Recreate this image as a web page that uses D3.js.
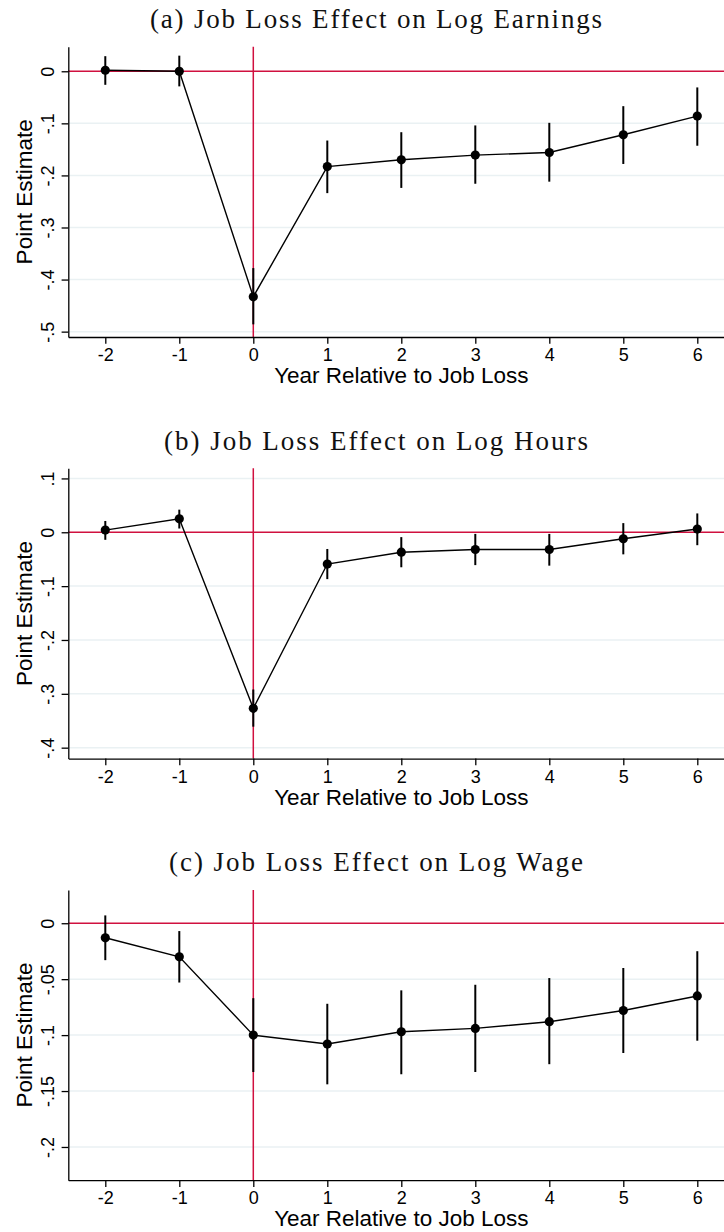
<!DOCTYPE html>
<html>
<head>
<meta charset="utf-8">
<script src="https://cdn.jsdelivr.net/npm/d3@7"></script>
<style>
  body { margin: 0; background: #fff; }
  svg { display: block; }
</style>
</head>
<body>
<div id="chart"></div>
<script>
// years relative to job loss
const years = [-2, -1, 0, 1, 2, 3, 4, 5, 6];

// (a) log earnings
const earnEst = [0.002, 0.000, -0.433, -0.183, -0.170, -0.161, -0.156, -0.122, -0.086];
const earnLo  = [-0.026, -0.029, -0.486, -0.234, -0.224, -0.216, -0.212, -0.178, -0.143];
const earnHi  = [0.029, 0.030, -0.378, -0.133, -0.117, -0.104, -0.099, -0.067, -0.031];
const earnTicks = [0, -0.1, -0.2, -0.3, -0.4, -0.5];

// (b) log hours
const hoursEst = [0.004, 0.025, -0.327, -0.059, -0.037, -0.032, -0.032, -0.012, 0.006];
const hoursLo  = [-0.014, 0.007, -0.361, -0.087, -0.065, -0.061, -0.062, -0.041, -0.024];
const hoursHi  = [0.021, 0.042, -0.292, -0.031, -0.009, -0.003, -0.003, 0.017, 0.035];
const hoursTicks = [0.1, 0, -0.1, -0.2, -0.3, -0.4];

// (c) log wage
const wageEst = [-0.013, -0.030, -0.100, -0.108, -0.097, -0.094, -0.088, -0.078, -0.065];
const wageLo  = [-0.033, -0.053, -0.133, -0.144, -0.135, -0.133, -0.126, -0.116, -0.105];
const wageHi  = [0.007, -0.007, -0.067, -0.072, -0.060, -0.055, -0.049, -0.040, -0.025];
const wageTicks = [0, -0.05, -0.1, -0.15, -0.2];

const panels = [
  { title: "(a) Job Loss Effect on Log Earnings", est: earnEst, lo: earnLo, hi: earnHi, ticks: earnTicks, ydom: [-0.5103, 0.0472], tw: 452 },
  { title: "(b) Job Loss Effect on Log Hours",    est: hoursEst, lo: hoursLo, hi: hoursHi, ticks: hoursTicks, ydom: [-0.4203, 0.1188], tw: 424 },
  { title: "(c) Job Loss Effect on Log Wage",     est: wageEst, lo: wageLo, hi: wageHi, ticks: wageTicks, ydom: [-0.2297, 0.0298], tw: 414 },
];

const W = 724, H = 1232;
const STEP = 421.6;           // vertical offset between panels
const left = 68.3, right = 734.3;
const plotTop = 46.7, plotBot = 337;
const red = "#d0103f";
const gridCol = "#eaf1f3";

// Stata style labels: drop the leading zero, plain hyphen minus
const fmt = v => v === 0 ? "0" : String(v).replace("0.", ".");

const svg = d3.select("#chart").append("svg")
  .attr("width", W).attr("height", H)
  .style("font-family", "'Liberation Sans', Arial, sans-serif");

const x = d3.scaleLinear().domain([-2.5, 6.5]).range([left, right]);

panels.forEach((p, k) => {
  const off = k * STEP;
  const g = svg.append("g").attr("transform", `translate(0,${off})`);
  const y = d3.scaleLinear().domain(p.ydom).range([plotBot, plotTop]);

  //title
  g.append("text")
    .attr("x", 376).attr("y", 28.3)
    .attr("text-anchor", "middle")
    .attr("textLength", p.tw).attr("lengthAdjust", "spacing")
    .style("font-family", "'Liberation Serif', 'Times New Roman', serif")
    .style("font-size", "27px")
    .attr("fill", "#111")
    .text(p.title);

  //grid
  g.append("g").selectAll("line")
    .data(p.ticks.filter(t => t !== 0))
    .join("line")
    .attr("x1", left).attr("x2", right)
    .attr("y1", d => y(d)).attr("y2", d => y(d))
    .attr("stroke", gridCol).attr("stroke-width", 1.5);

  //reference lines
  g.append("line")
    .attr("x1", left).attr("x2", right)
    .attr("y1", y(0)).attr("y2", y(0))
    .attr("stroke", red).attr("stroke-width", 1.5);
  g.append("line")
    .attr("x1", x(0)).attr("x2", x(0))
    .attr("y1", plotTop).attr("y2", plotBot)
    .attr("stroke", red).attr("stroke-width", 1.5);

  //axes
  const xa = g.append("g")
    .attr("transform", `translate(0,${plotBot})`)
    .call(d3.axisBottom(x).tickValues(years).tickFormat(d => String(d)).tickSize(6.7).tickSizeOuter(0));
  xa.selectAll("text").attr("y", null).attr("dy", null)
    .attr("transform", "translate(0,24)")
    .style("font-size", "18px").attr("fill", "#000");

  const ya = g.append("g")
    .attr("transform", `translate(${left},0)`)
    .call(d3.axisLeft(y).tickValues(p.ticks).tickFormat(fmt).tickSize(6.7).tickSizeOuter(0));
  ya.selectAll("text").attr("x", null).attr("dy", null)
    .attr("text-anchor", "middle")
    .attr("transform", "translate(-14,0) rotate(-90)")
    .style("font-size", "18px").attr("fill", "#000");

  [xa, ya].forEach(a => {
    a.attr("font-family", null).attr("font-size", null);
    a.select(".domain").attr("stroke", "#000").attr("stroke-width", 1.3);
    a.selectAll(".tick line").attr("stroke", "#000").attr("stroke-width", 1.3);
  });

  //axis titles
  g.append("text")
    .attr("x", (left + right) / 2).attr("y", plotBot + 46)
    .attr("text-anchor", "middle")
    .style("font-size", "22.5px")
    .text("Year Relative to Job Loss");
  g.append("text")
    .attr("transform", `translate(32,${(plotTop + plotBot) / 2}) rotate(-90)`)
    .attr("text-anchor", "middle")
    .style("font-size", "22.5px")
    .text("Point Estimate");

  //confidence intervals
  g.append("g").selectAll("line")
    .data(years)
    .join("line")
    .attr("x1", d => x(d)).attr("x2", d => x(d))
    .attr("y1", (d, i) => y(p.lo[i])).attr("y2", (d, i) => y(p.hi[i]))
    .attr("stroke", "#000").attr("stroke-width", 2);

  //estimate line
  const line = d3.line().x(d => x(d[0])).y(d => y(d[1]));
  g.append("path")
    .datum(years.map((yr, i) => [yr, p.est[i]]))
    .attr("d", line)
    .attr("fill", "none").attr("stroke", "#000").attr("stroke-width", 1.4);

  //markers
  g.append("g").selectAll("circle")
    .data(years)
    .join("circle")
    .attr("cx", d => x(d)).attr("cy", (d, i) => y(p.est[i]))
    .attr("r", 4.6).attr("fill", "#000");
});
</script>
</body>
</html>
